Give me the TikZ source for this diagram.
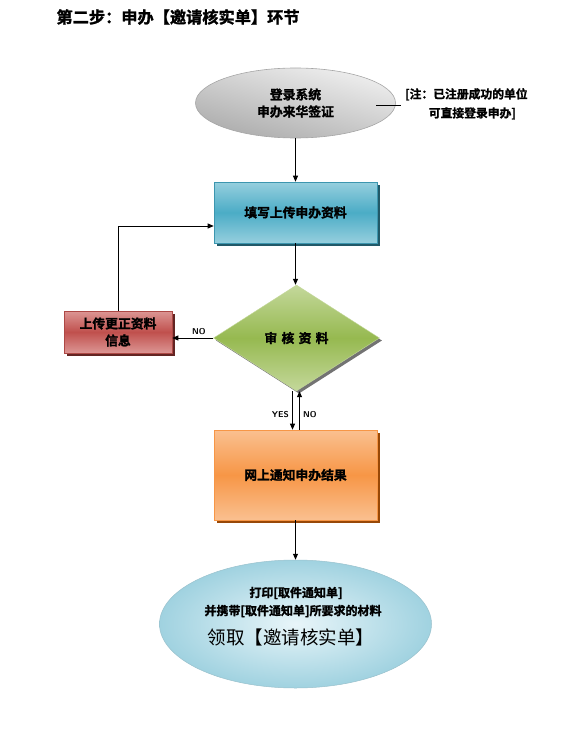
\documentclass[tikz,border=0pt]{standalone}
\usepackage{fontspec}
\setmainfont{Liberation Serif}
\newfontfamily\cjk{Noto Sans CJK SC}
\newfontfamily\cjkb[FakeBold=1.5]{Noto Sans CJK SC Bold}
\usetikzlibrary{shapes.geometric,arrows.meta,shadows}
\definecolor{bmid}{RGB}{75,172,198}
\definecolor{bedge}{RGB}{150,207,222}
\definecolor{bline}{RGB}{60,150,175}
\definecolor{bsh}{RGB}{33,89,104}
\definecolor{gmid}{RGB}{150,185,80}
\definecolor{gedge}{RGB}{196,216,155}
\definecolor{rmid}{RGB}{192,80,77}
\definecolor{redge}{RGB}{220,150,148}
\definecolor{rsh}{RGB}{99,37,35}
\definecolor{omid}{RGB}{247,150,70}
\definecolor{oedge}{RGB}{250,192,144}
\definecolor{osh}{RGB}{152,72,7}
\definecolor{eout}{RGB}{160,210,224}
\definecolor{ein}{RGB}{232,245,249}
\begin{document}
\begin{tikzpicture}[x=1pt,y=-1pt,
  conn/.style={line width=0.8pt,-{Triangle[length=6pt,width=5pt]}},
  plain/.style={line width=0.8pt},
  lbl/.style={font=\sffamily\bfseries\fontsize{8.5}{9}\selectfont},
  boxtxt/.style={font=\cjkb\fontsize{12.8}{17}\selectfont,align=center},
  sh/.style={drop shadow={shadow xshift=2.5pt,shadow yshift=-2.5pt,opacity=1,fill=#1}},
]
\useasboundingbox (0,0) rectangle (584,741);
% title
\node[anchor=west,font=\cjkb\fontsize{16.2}{18}\selectfont] (title) at (53,17) {第二步：申办【邀请核实单】环节};
% top ellipse
\node[ellipse,minimum width=200pt,minimum height=70pt,inner sep=0pt,
  shading=axis,top color=gray!12,bottom color=gray!65,shading angle=-15,
  draw=gray!70,line width=0.6pt,boxtxt] (login) at (295.5,103) {登录系统\\申办来华签证};
% note
\coordinate (nl) at (401,105);
\draw[plain] (376,105) -- (nl);
\node[anchor=north west,font=\cjkb\fontsize{11.8}{19}\selectfont,align=left,inner sep=0pt] (note) at (405,88)
  {[注：已注册成功的单位\\\hspace*{2em}可直接登录申办]};
% blue rect
\node[rectangle,minimum width=163pt,minimum height=61pt,draw=bline,line width=0.6pt,
  shading=axis,top color=bedge,bottom color=bedge,middle color=bmid,
  sh=bsh,boxtxt] (fill) at (295.5,212.5) {填写上传申办资料};
% diamond
\node[diamond,minimum width=166pt,minimum height=106pt,inner sep=0pt,aspect=1.56,
  draw=gedge,line width=0.4pt,shading=axis,top color=gedge,bottom color=gedge,middle color=gmid,
  sh=black!55,font=\cjkb\fontsize{12.8}{14}\selectfont] (check) at (296.5,338) {审\,\,核\,\,资\,\,料};
% red rect
\node[rectangle,minimum width=108pt,minimum height=42pt,draw=rmid!90!black,line width=0.6pt,
  shading=axis,top color=redge,bottom color=redge,middle color=rmid,
  sh=rsh,boxtxt] (fix) at (118,332) {上传更正资料\\信息};
% orange rect
\node[rectangle,minimum width=163pt,minimum height=90pt,draw=omid,line width=0.6pt,
  shading=axis,top color=oedge,bottom color=oedge,middle color=omid,
  sh=osh,boxtxt] (notify) at (295.5,475) {网上通知申办结果};
% bottom ellipse
\node[ellipse,minimum width=272pt,minimum height=128pt,inner sep=0pt,
  shading=radial,inner color=ein,outer color=eout,
  draw=eout!80!gray,line width=0.5pt] (get) at (295.5,624) {};
\node[font=\cjkb\fontsize{12}{13}\selectfont] (g1) at (296,593) {打印[取件通知单]};
\node[font=\cjkb\fontsize{12}{13}\selectfont] (g2) at (293,611) {并携带[取件通知单]所要求的材料};
\node[font=\cjk\fontsize{18.5}{20}\selectfont] (g3) at (291,637) {领取【邀请核实单】};
% connectors
\draw[conn] (login.south) -- (fill.north);
\draw[conn] (fill.south) -- (fill.south |- check.north);
\draw[conn] (check.west) -- node[lbl,above,pos=0.35] (lno) {NO} (check.west -| fix.east);
\coordinate (ca) at ([yshift=-13.5pt]fill.west);
\draw[conn] (fix.north) -- (fix.north |- ca) -- (ca);
\coordinate (ys) at ([xshift=-4pt]check.south);
\coordinate (ns) at ([xshift=3pt]check.south);
\draw[conn] (ys) -- node[lbl,left,pos=0.6] (lyes) {YES} (ys |- notify.north);
\draw[conn] (ns |- notify.north) -- node[lbl,right,pos=0.4] (lno2) {NO} (ns);
\draw[conn] (notify.south) -- (get.north);
\end{tikzpicture}
\end{document}
